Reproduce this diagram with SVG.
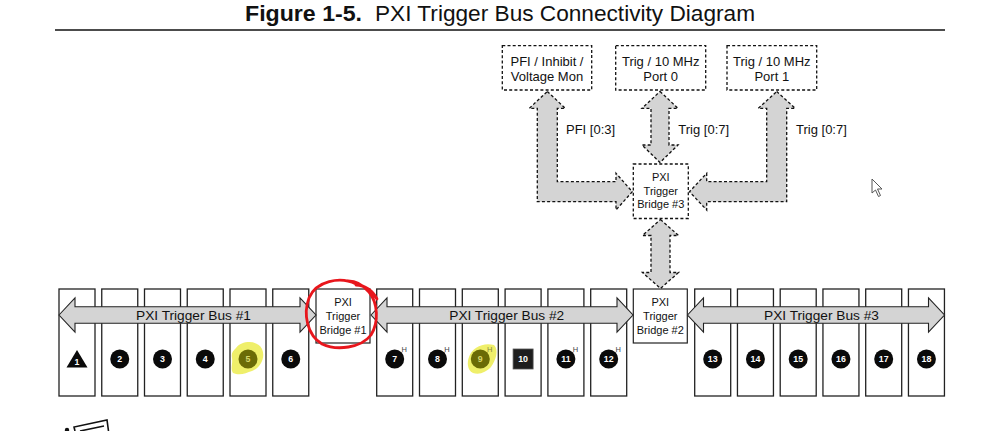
<svg xmlns="http://www.w3.org/2000/svg" width="999" height="431" viewBox="0 0 999 431">
<style>
  .slot { fill: #fff; stroke: #222; stroke-width: 1.3; }
  .bridge { fill: #fff; stroke: #222; stroke-width: 1.2; }
  .dbox { fill: #fff; stroke: #111; stroke-width: 1.3; stroke-dasharray: 3 2.2; }
  .bus { fill: #d4d4d4; stroke: #222; stroke-width: 1.1; }
  .darrow { fill: #d4d4d4; stroke: #111; stroke-width: 1.3; stroke-dasharray: 3 2.2; }
  .t { font-family: "Liberation Sans", Arial, sans-serif; fill: #111; }
  .lbl { font-size: 13px; }
  .buslbl { font-size: 13.7px; text-anchor: middle; }
  .brt { font-size: 11px; text-anchor: middle; }
  .num { font-family: "Liberation Sans", Arial, sans-serif; font-size: 8.8px; font-weight: bold; fill: #fff; text-anchor: middle; }
  .h { font-family: "Liberation Sans", Arial, sans-serif; font-size: 7.5px; fill: #444; }
  .dot { fill: #0a0a0a; }
</style>

<g id="title">
  <text class="t" x="245" y="21" font-size="22" textLength="117" lengthAdjust="spacingAndGlyphs" font-weight="bold">Figure 1-5.</text>
  <text class="t" x="375" y="21" font-size="22" textLength="380" lengthAdjust="spacingAndGlyphs">PXI Trigger Bus Connectivity Diagram</text>
  <line x1="55" y1="30" x2="945" y2="30" stroke="#111" stroke-width="1.5"/>
</g>

<g id="slots">
  <g id="slot1"><rect class="slot" x="59" y="289" width="36" height="107"/><polygon points="77,350 66.5,367.5 87.5,367.5" fill="#0a0a0a"/><text class="num" x="77" y="364.5">1</text></g>
  <g id="slot2"><rect class="slot" x="101.75" y="289" width="36" height="107"/><circle class="dot" cx="119.75" cy="359" r="9.5"/><text class="num" x="119.75" y="362.2">2</text></g>
  <g id="slot3"><rect class="slot" x="144.5" y="289" width="36" height="107"/><circle class="dot" cx="162.5" cy="359" r="9.5"/><text class="num" x="162.5" y="362.2">3</text></g>
  <g id="slot4"><rect class="slot" x="187.25" y="289" width="36" height="107"/><circle class="dot" cx="205.25" cy="359" r="9.5"/><text class="num" x="205.25" y="362.2">4</text></g>
  <g id="slot5"><rect class="slot" x="230" y="289" width="36" height="107"/>
    <path d="M236,348 C242,340 258,340 262,349 C266,358 260,368 252,371 C246,373 240,376 233,373 C230,368 233,364 232,358 C231,353 233,351 236,348 Z" fill="#eded5a" opacity="0.9"/>
    <circle cx="248" cy="359" r="9.5" fill="#6b6b06"/><text class="num" x="248" y="362.2" style="fill:#d6d66a">5</text></g>
  <g id="slot6"><rect class="slot" x="272.75" y="289" width="36" height="107"/><circle class="dot" cx="290.75" cy="359" r="9.5"/><text class="num" x="290.75" y="362.2">6</text></g>

  <g id="slot7"><rect class="slot" x="376.7" y="289" width="36" height="107"/><circle class="dot" cx="394.7" cy="359" r="9.5"/><text class="num" x="394.7" y="362.2">7</text><text class="h" x="401.5" y="352">H</text></g>
  <g id="slot8"><rect class="slot" x="419.5" y="289" width="36" height="107"/><circle class="dot" cx="437.5" cy="359" r="9.5"/><text class="num" x="437.5" y="362.2">8</text><text class="h" x="444.3" y="352">H</text></g>
  <g id="slot9"><rect class="slot" x="462.3" y="289" width="36" height="107"/>
    <path d="M469,357 C472,347 484,342 494,345 C499,350 496,360 491,367 C486,372 480,375 473,373 C467,370 467,362 469,357 Z" fill="#eded5a" opacity="0.9"/>
    <circle cx="480.3" cy="359" r="9.5" fill="#6b6b06"/><text class="num" x="480.3" y="362.2" style="fill:#d6d66a">9</text><text class="h" x="487.1" y="352" style="fill:#8a8a40">H</text></g>
  <g id="slot10"><rect class="slot" x="505.1" y="289" width="36" height="107"/><rect x="513.1" y="349" width="20" height="20" fill="#1e1e1e" stroke="#555" stroke-width="0.8"/><text class="num" x="523.1" y="362.2">10</text></g>
  <g id="slot11"><rect class="slot" x="547.9" y="289" width="36" height="107"/><circle class="dot" cx="565.9" cy="359" r="9.5"/><text class="num" x="565.9" y="362.2">11</text><text class="h" x="572.7" y="352">H</text></g>
  <g id="slot12"><rect class="slot" x="590.7" y="289" width="36" height="107"/><circle class="dot" cx="608.7" cy="359" r="9.5"/><text class="num" x="608.7" y="362.2">12</text><text class="h" x="615.5" y="352">H</text></g>

  <g id="slot13"><rect class="slot" x="694.7" y="289" width="36" height="107"/><circle class="dot" cx="712.7" cy="359" r="9.5"/><text class="num" x="712.7" y="362.2">13</text></g>
  <g id="slot14"><rect class="slot" x="737.45" y="289" width="36" height="107"/><circle class="dot" cx="755.45" cy="359" r="9.5"/><text class="num" x="755.45" y="362.2">14</text></g>
  <g id="slot15"><rect class="slot" x="780.2" y="289" width="36" height="107"/><circle class="dot" cx="798.2" cy="359" r="9.5"/><text class="num" x="798.2" y="362.2">15</text></g>
  <g id="slot16"><rect class="slot" x="822.95" y="289" width="36" height="107"/><circle class="dot" cx="840.95" cy="359" r="9.5"/><text class="num" x="840.95" y="362.2">16</text></g>
  <g id="slot17"><rect class="slot" x="865.7" y="289" width="36" height="107"/><circle class="dot" cx="883.7" cy="359" r="9.5"/><text class="num" x="883.7" y="362.2">17</text></g>
  <g id="slot18"><rect class="slot" x="908.45" y="289" width="36" height="107"/><circle class="dot" cx="926.45" cy="359" r="9.5"/><text class="num" x="926.45" y="362.2">18</text></g>
</g>

<g id="bridge1"><rect class="bridge" x="316" y="289" width="54" height="54"/>
  <text class="t brt" x="343" y="306">PXI</text><text class="t brt" x="343" y="320">Trigger</text><text class="t brt" x="343" y="333.5">Bridge #1</text></g>
<g id="bridge2"><rect class="bridge" x="633.3" y="289" width="54" height="54"/>
  <text class="t brt" x="660.3" y="306">PXI</text><text class="t brt" x="660.3" y="320">Trigger</text><text class="t brt" x="660.3" y="333.5">Bridge #2</text></g>
<g id="bridge3"><rect class="dbox" x="633.3" y="164" width="55" height="54.5"/>
  <text class="t brt" x="660.8" y="181">PXI</text><text class="t brt" x="660.8" y="194.5">Trigger</text><text class="t brt" x="660.8" y="208">Bridge #3</text></g>

<g id="pfi"><rect class="dbox" x="502.3" y="45.7" width="89.4" height="44.3"/>
  <text class="t lbl" x="547" y="65.5" text-anchor="middle">PFI / Inhibit /</text><text class="t lbl" x="547" y="81" text-anchor="middle">Voltage Mon</text></g>
<g id="port0"><rect class="dbox" x="615.7" y="45.7" width="90" height="44.3"/>
  <text class="t lbl" x="660.7" y="65.5" text-anchor="middle">Trig / 10 MHz</text><text class="t lbl" x="660.7" y="81" text-anchor="middle">Port 0</text></g>
<g id="port1"><rect class="dbox" x="727" y="45.7" width="89.7" height="44.3"/>
  <text class="t lbl" x="771.8" y="65.5" text-anchor="middle">Trig / 10 MHz</text><text class="t lbl" x="771.8" y="81" text-anchor="middle">Port 1</text></g>

<g id="connectors">
  <path class="bus" d="M59,315 L75,297.8 L75,306.7 L300,306.7 L300,297.8 L316,315 L300,332.2 L300,323.3 L75,323.3 L75,332.2 Z"/>
  <text class="t buslbl" x="193.5" y="320">PXI Trigger Bus #1</text>
  <path class="bus" d="M371,315 L387,297.8 L387,306.7 L617,306.7 L617,297.8 L633,315 L617,332.2 L617,323.3 L387,323.3 L387,332.2 Z"/>
  <text class="t buslbl" x="506.7" y="320">PXI Trigger Bus #2</text>
  <path class="bus" d="M687.5,315 L703.5,297.8 L703.5,306.7 L928.5,306.7 L928.5,297.8 L944.5,315 L928.5,332.2 L928.5,323.3 L703.5,323.3 L703.5,332.2 Z"/>
  <text class="t buslbl" x="821.5" y="320">PXI Trigger Bus #3</text>

  <path class="darrow" d="M547.3,91.5 L565.3,108.3 L557.3,108.3 L557.3,181.7 L616,181.7 L616,173.3 L632.3,191.7 L616,210 L616,201.7 L537.3,201.7 L537.3,108.3 L529.3,108.3 Z"/>
  <path class="darrow" d="M660,91.5 L678,108.3 L669,108.3 L669,145 L678,145 L660,162.5 L642,145 L651,145 L651,108.3 L642,108.3 Z"/>
  <path class="darrow" d="M776.7,91.5 L795.2,108.3 L786.7,108.3 L786.7,201.7 L706.7,201.7 L706.7,210 L689.5,191.7 L706.7,173.3 L706.7,181.7 L766.7,181.7 L766.7,108.3 L758.2,108.3 Z"/>
  <path class="darrow" d="M660.5,219.5 L678.5,235.5 L670,235.5 L670,272.5 L678.5,272.5 L660.5,288.5 L642.5,272.5 L651,272.5 L651,235.5 L642.5,235.5 Z"/>
  <text class="t lbl" x="566" y="134">PFI [0:3]</text>
  <text class="t lbl" x="678.3" y="134">Trig [0:7]</text>
  <text class="t lbl" x="796" y="134">Trig [0:7]</text>
</g>

<g id="annotations">
  <path d="M356,284 C340,276 316,281 309,298 C303,314 307,335 322,344 C337,351 361,348 371,335 C379,322 378,303 369,292 C364,286 356,281 348,281 M356,285 C365,285 373,291 377,299" fill="none" stroke="#e8161c" stroke-width="2.8" stroke-linecap="round"/>
  <polygon points="872,179 872,193 875.5,190 878.5,196.5 880.5,195.5 877.5,189 882,189" fill="#fff" stroke="#555" stroke-width="1"/>
  <circle cx="67" cy="430" r="2.2" fill="#111"/>
  <path d="M75,431 L74,427 L107,420 L108.5,431 M80,431 L104,426" fill="none" stroke="#111" stroke-width="1.6"/>
</g>
</svg>
